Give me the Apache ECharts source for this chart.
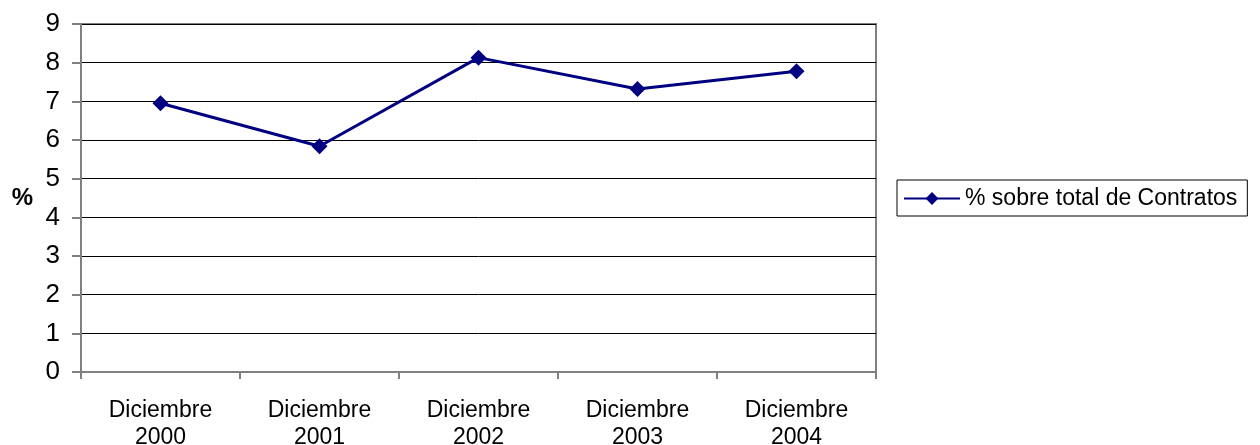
<!DOCTYPE html>
<html>
<head>
<meta charset="utf-8">
<script src="https://cdn.jsdelivr.net/npm/echarts@6/dist/echarts.min.js"></script>
<style>
  html, body { margin: 0; padding: 0; background: #fff; }
  #chart { width: 1260px; height: 445px; }
</style>
</head>
<body>
<div id="chart"></div>
<script>
const categories = ["Diciembre\n2000", "Diciembre\n2001", "Diciembre\n2002", "Diciembre\n2003", "Diciembre\n2004"];
const seriesName = "% sobre total de Contratos";
const values = [6.95, 5.84, 8.13, 7.32, 7.78];
const yTicks = [0, 1, 2, 3, 4, 5, 6, 7, 8, 9];

const chart = echarts.init(document.getElementById("chart"));

chart.setOption({
  animation: false,
  textStyle: { fontFamily: "Arial, 'Liberation Sans', sans-serif" },
  grid: {
    left: 81,
    right: 384,
    top: 24,
    bottom: 73,
    outerBoundsMode: "none",
    containLabel: false,
    show: true,
    borderColor: "#808080",
    borderWidth: 2,
  },
  legend: {
    data: [seriesName],
    left: 897,
    top: 180,
    orient: "vertical",
    borderColor: "#000",
    borderWidth: 1,
    padding: [7, 10, 6, 6],
    itemWidth: 56,
    itemHeight: 16,
    itemGap: 0,
    textStyle: { fontSize: 23, color: "#000" },
  },
  xAxis: {
    type: "category",
    data: categories,
    boundaryGap: true,
    axisLine: { lineStyle: { color: "#808080", width: 2 } },
    axisTick: { show: true, length: 7, lineStyle: { color: "#808080", width: 2 } },
    axisLabel: { fontSize: 23, color: "#000", lineHeight: 27, margin: 25 },
  },
  yAxis: {
    type: "value",
    min: yTicks[0],
    max: yTicks[yTicks.length - 1],
    interval: 1,
    name: "%",
    nameLocation: "middle",
    nameGap: 48,
    nameRotate: 0,
    nameTextStyle: { fontSize: 24, fontWeight: "bold", color: "#000" },
    axisLine: { show: true, lineStyle: { color: "#808080", width: 2 } },
    axisTick: { show: true, length: 9, lineStyle: { color: "#808080", width: 2 } },
    axisLabel: { fontSize: 26, color: "#000", margin: 21 },
    splitLine: { lineStyle: { color: "#000", width: 1 } },
  },
  series: [
    {
      name: seriesName,
      type: "line",
      data: values,
      color: "#000080",
      symbol: "diamond",
      symbolSize: 16,
      lineStyle: { width: 3, color: "#000080" },
      itemStyle: { color: "#000080" },
    },
  ],
});
</script>
</body>
</html>
